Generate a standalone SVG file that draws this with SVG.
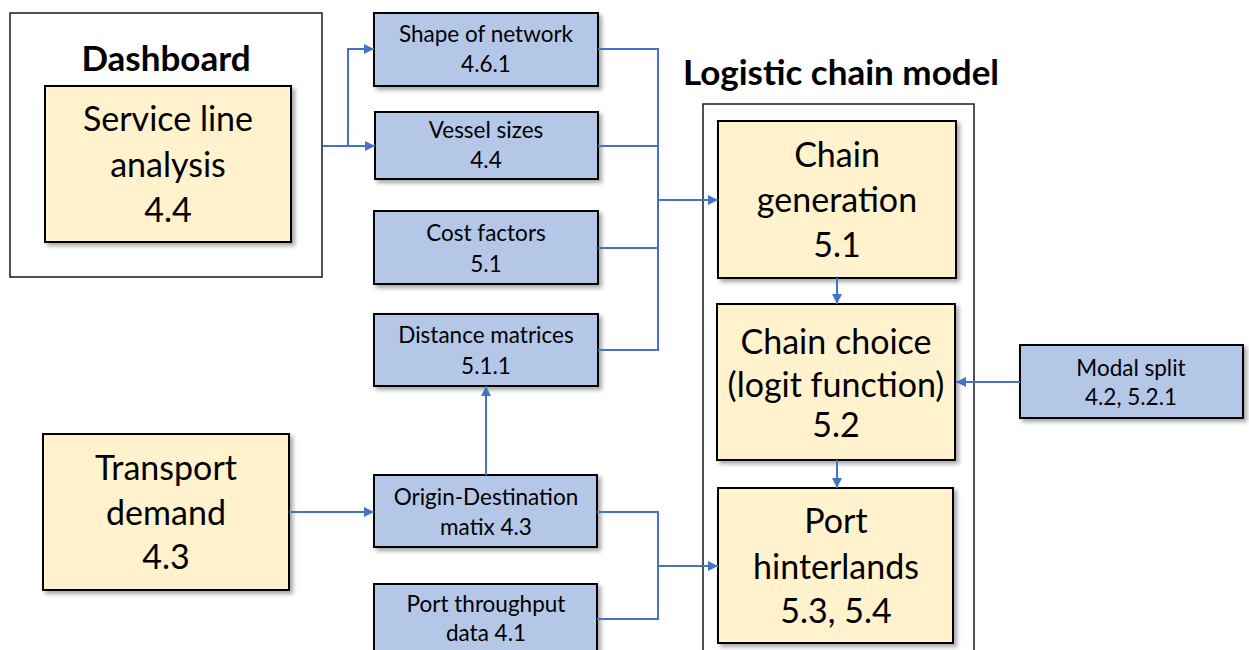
<svg xmlns="http://www.w3.org/2000/svg" width="1249" height="650" viewBox="0 0 1249 650">
<defs>
<filter id="sh" x="-10%" y="-10%" width="130%" height="130%">
<feDropShadow dx="3" dy="3" stdDeviation="2" flood-color="#000" flood-opacity="0.35"/>
</filter>
<marker id="ah" viewBox="0 0 10 10" refX="10" refY="5" markerWidth="10" markerHeight="10" markerUnits="userSpaceOnUse" orient="auto">
<path d="M0,0 L10,5 L0,10 z" fill="#4472C4"/>
</marker>
</defs>
<style>
.frame{fill:#fff;stroke:#1a1a1a;stroke-width:1.5}
.y{fill:#FFF2CC;stroke:#000;stroke-width:2;filter:url(#sh)}
.b{fill:#B4C7E7;stroke:#000;stroke-width:2;filter:url(#sh)}
.title{font-family:Lato,"Liberation Sans",sans-serif;font-weight:bold;font-size:35px;fill:#000;text-anchor:middle}
.big{font-family:Lato,"Liberation Sans",sans-serif;font-size:34px;fill:#000;text-anchor:middle}
.sm{font-family:Lato,"Liberation Sans",sans-serif;font-size:22.5px;fill:#000;text-anchor:middle}
.c{fill:none;stroke:#4472C4;stroke-width:2}
.ca{fill:none;stroke:#4472C4;stroke-width:2;marker-end:url(#ah)}
</style>
<rect width="1249" height="650" fill="#fff"/>
<g id="dashboard">
<rect class="frame" x="10" y="13" width="312" height="264"/>
<text class="title" x="166" y="71">Dashboard</text>
</g>
<g id="logistic-chain-model">
<rect class="frame" x="703" y="104" width="271" height="560"/>
<text class="title" x="841" y="85">Logistic chain model</text>
</g>
<g id="service-line">
<rect class="y" x="45" y="86" width="246" height="156"/>
<text class="big" x="168" y="131">Service line</text>
<text class="big" x="168" y="177">analysis</text>
<text class="big" x="168" y="222">4.4</text>
</g>
<g id="shape-network">
<rect class="b" x="374" y="13" width="224" height="73"/>
<text class="sm" x="486" y="42">Shape of network</text>
<text class="sm" x="486" y="72">4.6.1</text>
</g>
<g id="vessel-sizes">
<rect class="b" x="375" y="112" width="223" height="67"/>
<text class="sm" x="486" y="138">Vessel sizes</text>
<text class="sm" x="486" y="168">4.4</text>
</g>
<g id="cost-factors">
<rect class="b" x="374" y="211" width="224" height="73"/>
<text class="sm" x="486" y="241">Cost factors</text>
<text class="sm" x="486" y="272">5.1</text>
</g>
<g id="distance-matrices">
<rect class="b" x="374" y="314" width="224" height="72"/>
<text class="sm" x="486" y="343">Distance matrices</text>
<text class="sm" x="486" y="374">5.1.1</text>
</g>
<g id="transport-demand">
<rect class="y" x="43" y="434" width="246" height="156"/>
<text class="big" x="166" y="480">Transport</text>
<text class="big" x="166" y="525">demand</text>
<text class="big" x="166" y="569">4.3</text>
</g>
<g id="od-matrix">
<rect class="b" x="374" y="475" width="223" height="72"/>
<text class="sm" x="486" y="505">Origin-Destination</text>
<text class="sm" x="486" y="535">matix 4.3</text>
</g>
<g id="port-throughput">
<rect class="b" x="374" y="584" width="223" height="80"/>
<text class="sm" x="486" y="612">Port throughput</text>
<text class="sm" x="486" y="641">data 4.1</text>
</g>
<g id="chain-generation">
<rect class="y" x="718" y="121" width="238" height="157"/>
<text class="big" x="837" y="167">Chain</text>
<text class="big" x="837" y="212">generation</text>
<text class="big" x="837" y="257">5.1</text>
</g>
<g id="chain-choice">
<rect class="y" x="717" y="304" width="238" height="156"/>
<text class="big" x="836" y="354">Chain choice</text>
<text class="big" x="836" y="397">(logit function)</text>
<text class="big" x="836" y="437">5.2</text>
</g>
<g id="port-hinterlands">
<rect class="y" x="718" y="488" width="235" height="155"/>
<text class="big" x="836" y="533">Port</text>
<text class="big" x="836" y="579">hinterlands</text>
<text class="big" x="836" y="623">5.3, 5.4</text>
</g>
<g id="modal-split">
<rect class="b" x="1020" y="345" width="223" height="73"/>
<text class="sm" x="1131" y="376">Modal split</text>
<text class="sm" x="1131" y="405">4.2, 5.2.1</text>
</g>
<g id="connectors">
<path class="ca" d="M323,146 H348 V49 H374"/>
<path class="ca" d="M348,146 H375"/>
<path class="c" d="M598,49 H658 V350 H598"/>
<path class="c" d="M598,146 H658"/>
<path class="c" d="M598,248 H658"/>
<path class="ca" d="M658,200 H718"/>
<path class="ca" d="M837,278 V304"/>
<path class="ca" d="M837,460 V488"/>
<path class="ca" d="M1020,382 H956"/>
<path class="ca" d="M289,512 H374"/>
<path class="ca" d="M486,475 V386"/>
<path class="c" d="M597,512 H658 V619 H597"/>
<path class="ca" d="M658,566 H718"/>
</g>
</svg>
